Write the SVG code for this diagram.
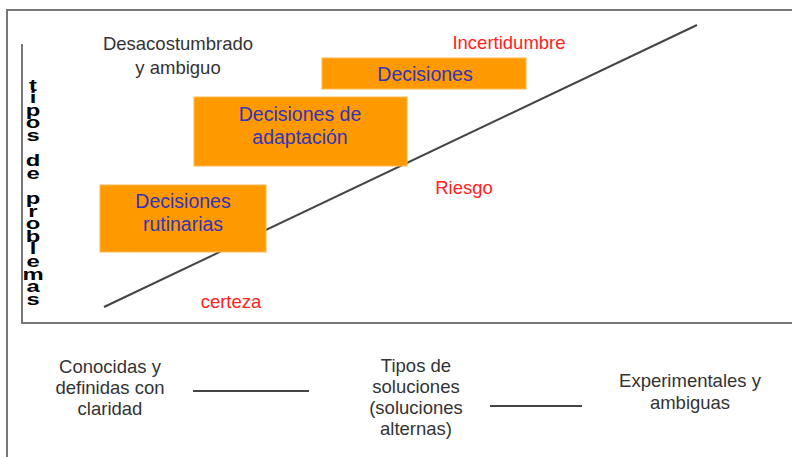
<svg xmlns="http://www.w3.org/2000/svg" width="792" height="457" viewBox="0 0 792 457">
<style>
.frame{fill:none;stroke:#777;stroke-width:2}
.ax{fill:none;stroke:#777;stroke-width:2}
.ln{stroke:#444;stroke-width:2}
.box{fill:#FF9900;stroke:#FFB84D;stroke-width:1}
.bt{font-family:"Liberation Sans",Arial,sans-serif;font-size:19.5px;fill:#3333BB;text-anchor:middle}
.gt{font-family:"Liberation Sans",Arial,sans-serif;font-size:18.5px;fill:#333;text-anchor:middle}
.rt{font-family:"Liberation Sans",Arial,sans-serif;font-size:18.5px;fill:#FF2222;text-anchor:middle}
.vt{font-family:"Liberation Sans",Arial,sans-serif;font-size:17px;font-weight:bold;fill:#000;writing-mode:vertical-rl;text-orientation:upright;letter-spacing:-6.3px}
</style>
<rect width="792" height="457" fill="#fff"/>
<path class="frame" d="M792 10 H7 V457"/>
<path class="ax" d="M22 44 V323 H792"/>
<g id="ylabel" transform="translate(33,0) scale(1.4,1)">
<text class="vt" x="0" y="75">tipos de problemas</text>
</g>
<g id="connectors">
<line class="ln" x1="104" y1="307" x2="697" y2="25"/>
<line class="ln" x1="193" y1="391" x2="309" y2="391"/>
<line class="ln" x1="490" y1="406" x2="582" y2="406"/>
</g>
<g id="rutinarias">
<rect class="box" x="100" y="185" width="166" height="67"/>
<text class="bt" x="183" y="208">Decisiones</text>
<text class="bt" x="183" y="231">rutinarias</text>
</g>
<g id="adaptacion">
<rect class="box" x="194" y="97" width="213" height="69"/>
<text class="bt" x="300" y="121">Decisiones de</text>
<text class="bt" x="300" y="144">adaptación</text>
</g>
<g id="decisiones">
<rect class="box" x="322" y="58" width="204" height="31"/>
<text class="bt" x="425" y="81">Decisiones</text>
</g>
<g id="desacostumbrado">
<text class="gt" x="178" y="50">Desacostumbrado</text>
<text class="gt" x="178" y="74">y ambiguo</text>
</g>
<g id="incertidumbre"><text class="rt" x="509" y="49">Incertidumbre</text></g>
<g id="riesgo"><text class="rt" x="464" y="194">Riesgo</text></g>
<g id="certeza"><text class="rt" x="231" y="308">certeza</text></g>
<g id="conocidas">
<text class="gt" x="110" y="373">Conocidas y</text>
<text class="gt" x="110" y="394">definidas con</text>
<text class="gt" x="110" y="415">claridad</text>
</g>
<g id="tipos">
<text class="gt" x="416" y="372">Tipos de</text>
<text class="gt" x="416" y="393">soluciones</text>
<text class="gt" x="416" y="414">(soluciones</text>
<text class="gt" x="416" y="435">alternas)</text>
</g>
<g id="experimentales">
<text class="gt" x="690" y="387">Experimentales y</text>
<text class="gt" x="690" y="409">ambiguas</text>
</g>
</svg>
